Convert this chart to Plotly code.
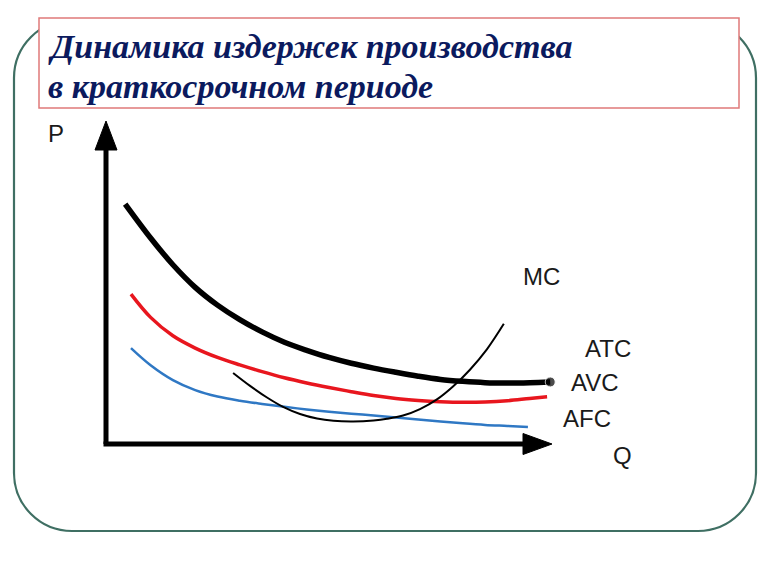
import plotly.graph_objects as go

# ---- data (quantity Q, cost P in arbitrary units) ----
atc_q = [0.43, 1.0, 1.5, 2.0, 2.5, 3.0, 3.5, 4.0, 4.5, 5.0, 5.5, 6.0, 6.5, 7.0, 7.5, 8.0, 8.5, 9.0, 9.5, 9.96]
atc_p = [7.43, 6.38, 5.55, 4.85, 4.30, 3.85, 3.47, 3.15, 2.90, 2.68, 2.50, 2.35, 2.22, 2.10, 2.00, 1.94, 1.90, 1.89, 1.90, 1.92]

avc_q = [0.56, 1.0, 1.5, 2.0, 2.5, 3.0, 3.5, 4.0, 4.5, 5.0, 5.5, 6.0, 6.5, 7.0, 7.5, 8.0, 8.5, 9.0, 9.5, 9.89]
avc_p = [4.64, 3.92, 3.35, 2.97, 2.68, 2.45, 2.24, 2.05, 1.89, 1.75, 1.62, 1.50, 1.41, 1.35, 1.31, 1.29, 1.30, 1.34, 1.41, 1.46]

afc_q = [0.56, 1.0, 1.5, 2.0, 2.5, 3.0, 3.5, 4.0, 4.5, 5.0, 5.5, 6.0, 6.5, 7.0, 7.5, 8.0, 8.5, 9.0, 9.46]
afc_p = [2.97, 2.44, 1.98, 1.67, 1.47, 1.34, 1.24, 1.15, 1.07, 1.00, 0.94, 0.88, 0.82, 0.76, 0.70, 0.64, 0.59, 0.56, 0.53]

mc_q = [2.85, 3.23, 3.61, 3.97, 4.35, 4.73, 5.10, 5.54, 6.00, 6.30, 6.66, 7.04, 7.42, 7.78, 8.16, 8.54, 8.92]
mc_p = [2.20, 1.80, 1.44, 1.15, 0.93, 0.79, 0.72, 0.70, 0.73, 0.78, 0.88, 1.08, 1.38, 1.78, 2.30, 2.93, 3.72]

curve_labels = ["MC", "ATC", "AVC", "AFC"]
axis_labels = ["P", "Q"]
title_lines = ["Динамика издержек производства", "в краткосрочном периоде"]

W, H = 768, 576
# pixel scale: origin at (106, 444); 44.6 px per Q unit, 32.3 px per P unit
X0, Y0, SX, SY = 106, 444, 44.6, 32.3
x_range = [-X0 / SX, (W - X0) / SX]
y_range = [(Y0 - H) / SY, Y0 / SY]


def px(x):
    return x / W


def py(y):
    return 1 - y / H


fig = go.Figure()

fig.add_trace(go.Scatter(x=afc_q, y=afc_p, mode="lines",
                         line=dict(color="#2f78c4", width=2.5, shape="spline"),
                         hoverinfo="skip"))
fig.add_trace(go.Scatter(x=avc_q, y=avc_p, mode="lines",
                         line=dict(color="#e8161e", width=3.5, shape="spline"),
                         hoverinfo="skip"))
fig.add_trace(go.Scatter(x=mc_q, y=mc_p, mode="lines",
                         line=dict(color="#000000", width=2, shape="spline"),
                         hoverinfo="skip"))
fig.add_trace(go.Scatter(x=atc_q, y=atc_p, mode="lines+markers",
                         line=dict(color="#000000", width=5.5, shape="spline"),
                         marker=dict(color="#000000",
                                     size=[0] * (len(atc_q) - 1) + [10]),
                         hoverinfo="skip"))

shapes = []

# rounded outer frame (paper coords)
L, R, T, B, r = 14, 756, 20, 531, 58
k = 0.5523 * r
path = (
    f"M {px(L + r)},{py(T)} L {px(R - r)},{py(T)} "
    f"C {px(R - r + k)},{py(T)} {px(R)},{py(T + r - k)} {px(R)},{py(T + r)} "
    f"L {px(R)},{py(B - r)} "
    f"C {px(R)},{py(B - r + k)} {px(R - r + k)},{py(B)} {px(R - r)},{py(B)} "
    f"L {px(L + r)},{py(B)} "
    f"C {px(L + r - k)},{py(B)} {px(L)},{py(B - r + k)} {px(L)},{py(B - r)} "
    f"L {px(L)},{py(T + r)} "
    f"C {px(L)},{py(T + r - k)} {px(L + r - k)},{py(T)} {px(L + r)},{py(T)} Z"
)
shapes.append(dict(type="path", xref="paper", yref="paper", path=path,
                   line=dict(color="#3f6f63", width=2.2), fillcolor="rgba(0,0,0,0)",
                   layer="below"))

# title box
shapes.append(dict(type="rect", xref="paper", yref="paper",
                   x0=px(39), x1=px(739), y0=py(108), y1=py(18),
                   line=dict(color="#e07a7a", width=1.5), fillcolor="white",
                   layer="below"))

# axes
y_tip, y_base = 10.0, (Y0 - 150) / SY
x_tip, x_base = (552 - X0) / SX, (523 - X0) / SX
hw_y = 11 / SX
hh_x = 10.5 / SY
shapes.append(dict(type="line", xref="x", yref="y", x0=0, y0=0, x1=0, y1=y_base,
                   line=dict(color="black", width=5)))
shapes.append(dict(type="line", xref="x", yref="y", x0=-2.5 / SX, y0=0, x1=x_base, y1=0,
                   line=dict(color="black", width=5)))
shapes.append(dict(type="path", xref="x", yref="y",
                   path=f"M {-hw_y},{y_base} L {hw_y},{y_base} L 0,{y_tip} Z",
                   line=dict(color="black", width=1), fillcolor="black"))
shapes.append(dict(type="path", xref="x", yref="y",
                   path=f"M {x_base},{-hh_x} L {x_base},{hh_x} L {x_tip},0 Z",
                   line=dict(color="black", width=1), fillcolor="black"))

annotations = []
for line_text, yc in zip(title_lines, [47, 87]):
    annotations.append(dict(
        xref="paper", yref="paper", x=px(46), y=py(yc), xanchor="left", yanchor="middle",
        align="left", showarrow=False, text=line_text,
        font=dict(family="Liberation Serif", size=34, color="#0b1a5e",
                  style="italic", weight="bold")))

label_pos = {"MC": (541, 276), "ATC": (608, 348), "AVC": (595, 382),
             "AFC": (587, 418), "P": (56, 133), "Q": (622, 455)}
for name in curve_labels + axis_labels:
    x, y = label_pos[name]
    annotations.append(dict(xref="paper", yref="paper", x=px(x), y=py(y),
                            xanchor="center", yanchor="middle", showarrow=False,
                            text=name,
                            font=dict(family="Liberation Sans", size=24, color="#1a1a1a")))

fig.update_layout(
    width=W, height=H, autosize=False,
    margin=dict(l=0, r=0, t=0, b=0, pad=0),
    paper_bgcolor="white", plot_bgcolor="rgba(0,0,0,0)",
    showlegend=False,
    xaxis=dict(range=x_range, visible=False, fixedrange=True),
    yaxis=dict(range=y_range, visible=False, fixedrange=True),
    shapes=shapes, annotations=annotations,
)

fig.write_html("out.html", config={"displayModeBar": False},
               post_script="document.body.style.margin='0';document.body.style.padding='0';")
